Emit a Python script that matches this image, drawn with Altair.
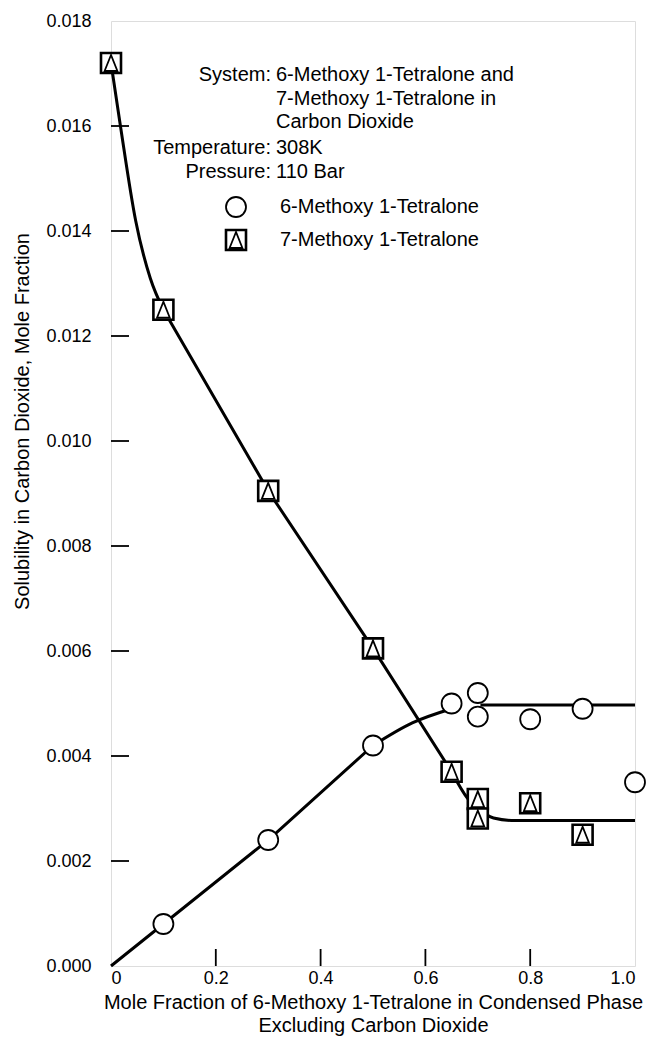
import altair as alt
import pandas as pd

FONT = "Liberation Sans"

# ---- measured points ----
SERIES6 = "6-Methoxy 1-Tetralone"
SERIES7 = "7-Methoxy 1-Tetralone"
X6 = [0.1, 0.3, 0.5, 0.65, 0.7, 0.7, 0.8, 0.9, 1.0]
Y6 = [0.0008, 0.0024, 0.0042, 0.0050, 0.0052, 0.00475, 0.0047, 0.0049, 0.0035]
X7 = [0.0, 0.1, 0.3, 0.5, 0.65, 0.7, 0.7, 0.8, 0.9]
Y7 = [0.0172, 0.0125, 0.00905, 0.00605, 0.0037, 0.00318, 0.00281, 0.0031, 0.0025]

# ---- curves (pieces joined under the markers) ----
C7_TOP_X = [0.0, 0.018, 0.047, 0.075, 0.1]
C7_TOP_Y = [0.0172, 0.0160, 0.0142, 0.0131, 0.0125]
C7_MID_X = [0.1, 0.3, 0.5, 0.65]
C7_MID_Y = [0.0125, 0.00905, 0.00605, 0.0037]
C7_END_X = [0.65, 0.68, 0.70, 0.73, 0.77, 1.0]
C7_END_Y = [0.0037, 0.0032, 0.0030, 0.00282, 0.00277, 0.00277]
C6_LOW_X = [0.0, 0.1, 0.3, 0.5]
C6_LOW_Y = [0.0, 0.0008, 0.0024, 0.0042]
C6_UP_X = [0.5, 0.575, 0.65]
C6_UP_Y = [0.0042, 0.00463, 0.0049]
C6_FLAT_X = [0.705, 1.0]
C6_FLAT_Y = [0.00497, 0.00497]

# ---- axes ----
X_TICKS = [0.0, 0.2, 0.4, 0.6, 0.8, 1.0]
X_INNER_TICKS = [0.2, 0.4, 0.6, 0.8]
Y_TICKS = [0.0, 0.002, 0.004, 0.006, 0.008, 0.010, 0.012, 0.014, 0.016, 0.018]
Y_INNER_TICKS = [0.002, 0.004, 0.006, 0.008, 0.010, 0.012, 0.014, 0.016]
X_TITLE = ["Mole Fraction of 6-Methoxy 1-Tetralone in Condensed Phase",
           "Excluding Carbon Dioxide"]
Y_TITLE = "Solubility in Carbon Dioxide, Mole Fraction"

# ---- annotation text ----
ANNOT_KEYS = ["System:", "", "", "Temperature:", "Pressure:"]
ANNOT_VALS = ["6-Methoxy 1-Tetralone and", "7-Methoxy 1-Tetralone in",
              "Carbon Dioxide", "308K", "110 Bar"]

W, H = 524, 945
TXT = 20
xs = alt.Scale(domain=[0, 1.0], nice=False, zero=False)
ys = alt.Scale(domain=[0, 0.018], nice=False, zero=False)

xaxis = alt.Axis(values=X_TICKS, grid=False, ticks=False, domain=False,
                 labelExpr="datum.value == 0 ? '0' : format(datum.value, '.1f')",
                 labelFontSize=18, labelPadding=3, labelColor="black",
                 title=X_TITLE, titleFontSize=TXT, titleFontWeight="normal",
                 titlePadding=5, titleLineHeight=23, titleColor="black",
                 labelFont=FONT, titleFont=FONT)
yaxis = alt.Axis(values=Y_TICKS, grid=False, ticks=False, domain=False,
                 format=".3f", labelFontSize=18, labelPadding=20, labelColor="black",
                 title=Y_TITLE, titleFontSize=TXT, titleFontWeight="normal",
                 titleX=-89, titleY=400, titleAlign="center", titleBaseline="middle",
                 titleColor="black", labelFont=FONT, titleFont=FONT)


def piece(xv, yv, interp, axes=False):
    df = pd.DataFrame({"x": xv, "y": yv})
    if axes:
        enc = dict(x=alt.X("x:Q", scale=xs, axis=xaxis), y=alt.Y("y:Q", scale=ys, axis=yaxis))
    else:
        enc = dict(x=alt.X("x:Q", scale=xs), y=alt.Y("y:Q", scale=ys))
    return alt.Chart(df).mark_line(color="black", strokeWidth=3,
                                   interpolate=interp).encode(**enc)


lines = [
    piece(C7_TOP_X, C7_TOP_Y, "monotone", axes=True),
    piece(C7_MID_X, C7_MID_Y, "linear"),
    piece(C7_END_X, C7_END_Y, "monotone"),
    piece(C6_LOW_X, C6_LOW_Y, "linear"),
    piece(C6_UP_X, C6_UP_Y, "monotone"),
    piece(C6_FLAT_X, C6_FLAT_Y, "linear"),
]

p6 = pd.DataFrame({"x": X6, "y": Y6, "s": SERIES6})
p7 = pd.DataFrame({"x": X7, "y": Y7, "s": SERIES7})

TRI = "M0,-1L-0.8,1L0.8,1Z"

circles = alt.Chart(p6).mark_point(shape="circle", filled=True, fill="white",
                                   stroke="black", strokeWidth=1.8, size=400,
                                   opacity=1).encode(
    x=alt.X("x:Q", scale=xs), y=alt.Y("y:Q", scale=ys))
squares = alt.Chart(p7).mark_point(shape="square", filled=True, fill="white",
                                   stroke="black", strokeWidth=2.6, size=400,
                                   opacity=1).encode(
    x=alt.X("x:Q", scale=xs), y=alt.Y("y:Q", scale=ys))
tris = alt.Chart(p7).mark_point(shape=TRI, filled=True, fill="white",
                                stroke="black", strokeWidth=1.8, size=256,
                                opacity=1).encode(
    x=alt.X("x:Q", scale=xs), y=alt.Y("y:Q", scale=ys))

ytick_df = pd.DataFrame({"v": Y_INNER_TICKS})
xtick_df = pd.DataFrame({"v": X_INNER_TICKS})
yticks = alt.Chart(ytick_df).mark_rule(color="black", strokeWidth=1.8).encode(
    y=alt.Y("v:Q", scale=ys), x=alt.value(0), x2=alt.value(18))
xticks = alt.Chart(xtick_df).mark_rule(color="black", strokeWidth=1.8).encode(
    x=alt.X("v:Q", scale=xs), y=alt.value(H), y2=alt.value(H - 17))

one = pd.DataFrame({"k": [0]})
ROW_Y = [54, 78, 101, 127, 151]
texts = []
for i, (k, v) in enumerate(zip(ANNOT_KEYS, ANNOT_VALS)):
    if k:
        texts.append(alt.Chart(one).mark_text(text=k, align="right", baseline="middle",
                                              fontSize=TXT, font=FONT, color="black").encode(
            x=alt.value(160), y=alt.value(ROW_Y[i])))
    texts.append(alt.Chart(one).mark_text(text=v, align="left", baseline="middle",
                                          fontSize=TXT, font=FONT, color="black").encode(
        x=alt.value(165), y=alt.value(ROW_Y[i])))

leg_circle = alt.Chart(one).mark_point(shape="circle", filled=True, fill="white",
                                       stroke="black", strokeWidth=1.8, size=400,
                                       opacity=1).encode(x=alt.value(125), y=alt.value(186))
leg_square = alt.Chart(one).mark_point(shape="square", filled=True, fill="white",
                                       stroke="black", strokeWidth=2.6, size=400,
                                       opacity=1).encode(x=alt.value(125), y=alt.value(219))
leg_tri = alt.Chart(one).mark_point(shape=TRI, filled=True, fill="white",
                                    stroke="black", strokeWidth=1.8, size=256,
                                    opacity=1).encode(x=alt.value(125), y=alt.value(219))
leg_t6 = alt.Chart(one).mark_text(text=SERIES6, align="left", baseline="middle",
                                  fontSize=TXT, font=FONT, color="black").encode(
    x=alt.value(169), y=alt.value(186))
leg_t7 = alt.Chart(one).mark_text(text=SERIES7, align="left", baseline="middle",
                                  fontSize=TXT, font=FONT, color="black").encode(
    x=alt.value(169), y=alt.value(219))

chart = alt.layer(
    *lines, yticks, xticks, circles, squares, tris,
    *texts, leg_circle, leg_square, leg_tri, leg_t6, leg_t7,
).properties(
    width=W, height=H,
    padding={"left": 103, "top": 13, "right": 12, "bottom": 75},
    autosize=alt.AutoSizeParams(type="none"),
).configure_view(
    stroke="black", strokeWidth=2,
).configure(font=FONT, background="white")

chart.save("out.html", embed_options={"renderer": "svg", "actions": False})
